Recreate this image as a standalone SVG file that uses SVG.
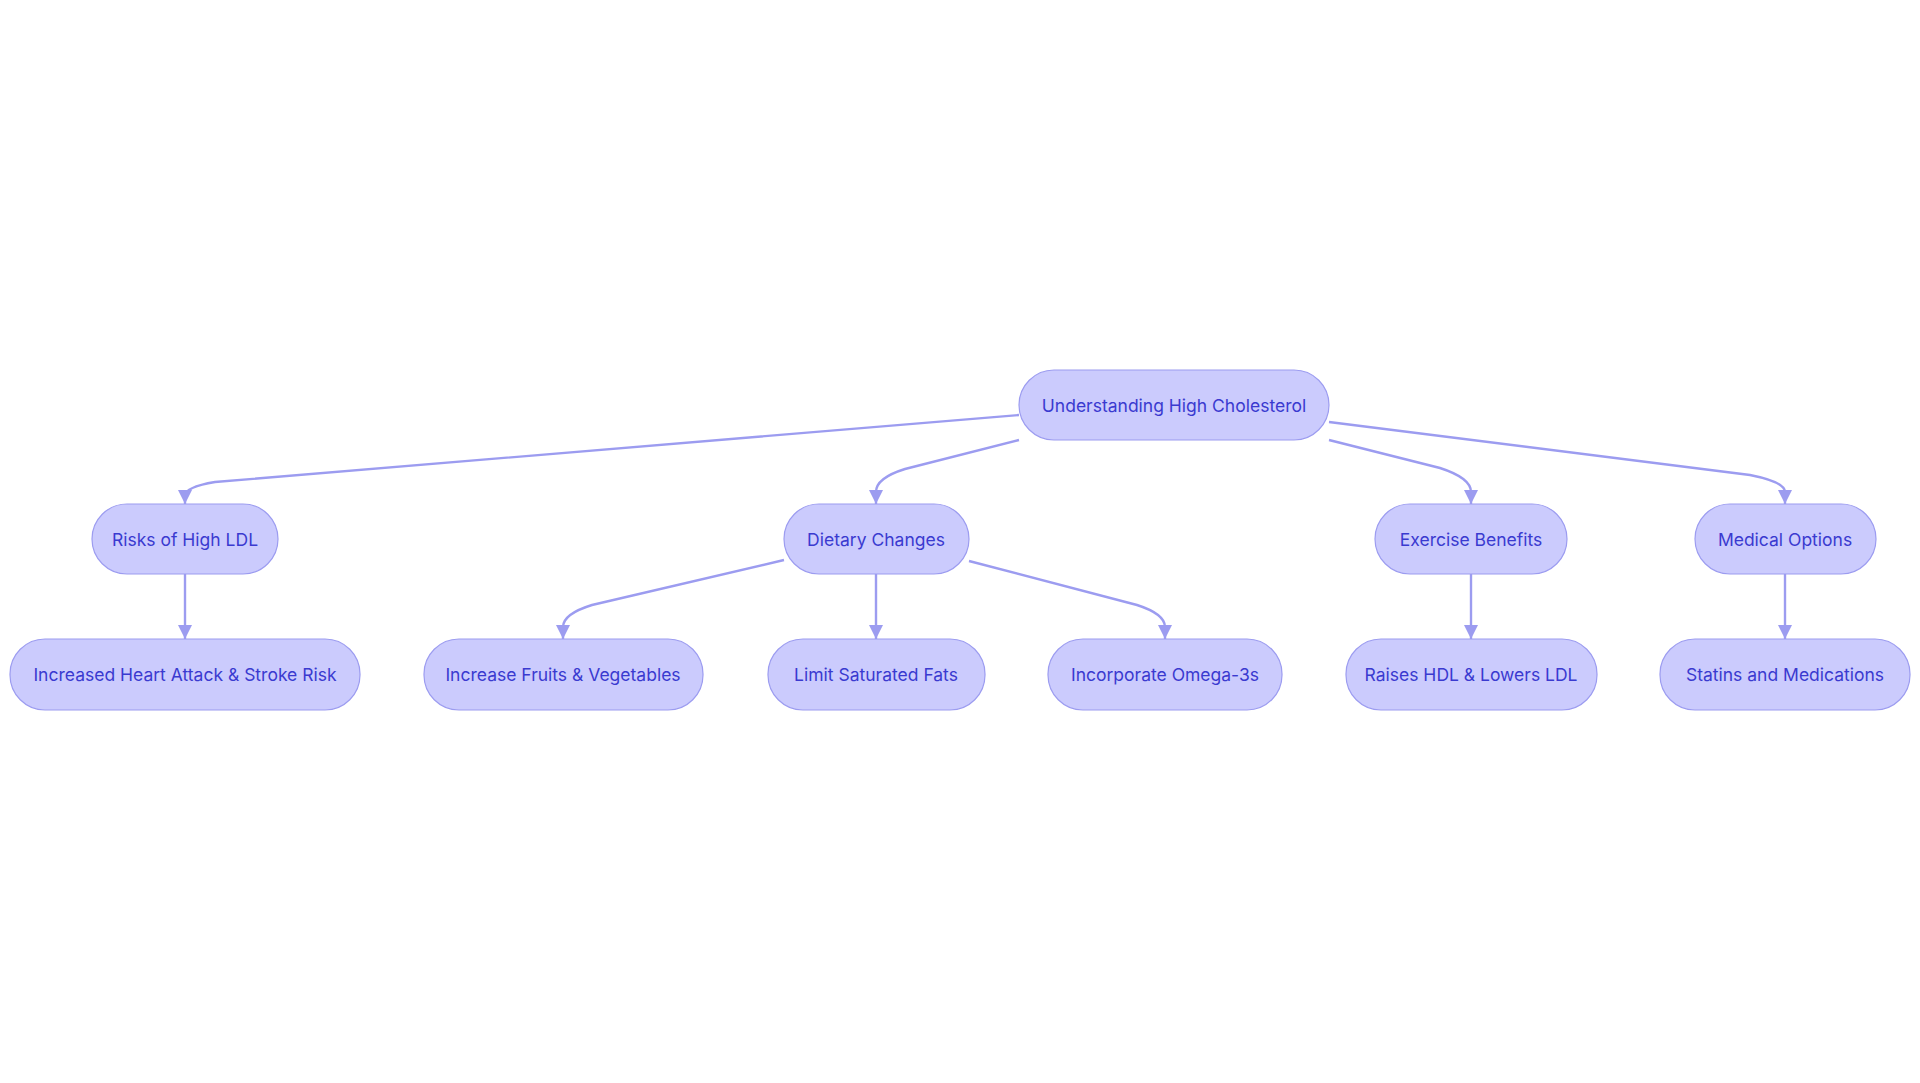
<svg xmlns="http://www.w3.org/2000/svg" width="1920" height="1083" viewBox="0 0 1920 1083">
<style>
.n rect{fill:#cbcbfd;stroke:#9c9cf0;stroke-width:1.2}
.n text{font-family:Inter,"Noto Sans",sans-serif;font-size:17.5px;fill:#3a3ad0;text-anchor:middle;dominant-baseline:central}
.e path{fill:none;stroke:#9c9cf0;stroke-width:2.4;marker-end:url(#a)}
</style>
<defs><marker id="a" viewBox="0 0 10 10" refX="10" refY="5" markerWidth="6" markerHeight="6" markerUnits="strokeWidth" orient="auto"><path d="M0,0L10,5L0,10z" fill="#9c9cf0"/></marker></defs>
<rect width="1920" height="1083" fill="#fff"/>
<g class="e">
<path d="M1019,415 L215,482 Q185,487 185,496 L185,504"/>
<path d="M1019,440 L905,469 Q876,478 876,492 L876,504"/>
<path d="M1329,440 L1440,468 Q1471,478 1471,492 L1471,504"/>
<path d="M1329,422 L1750,475 Q1785,482 1785,492 L1785,504"/>
<path d="M185,574 L185,639"/>
<path d="M784,560 L592,605 Q563,614 563,627 L563,639"/>
<path d="M876,574 L876,639"/>
<path d="M969,561 L1137,605 Q1165,614 1165,627 L1165,639"/>
<path d="M1471,574 L1471,639"/>
<path d="M1785,574 L1785,639"/>
</g>
<g id="root" class="n"><rect x="1019" y="370" width="310" height="70" rx="35"/><text x="1174" y="405">Understanding High Cholesterol</text></g>
<g id="risks" class="n"><rect x="92" y="504" width="186" height="70" rx="35"/><text x="185" y="539">Risks of High LDL</text></g>
<g id="diet" class="n"><rect x="784" y="504" width="185" height="70" rx="35"/><text x="876" y="539">Dietary Changes</text></g>
<g id="exercise" class="n"><rect x="1375" y="504" width="192" height="70" rx="35"/><text x="1471" y="539">Exercise Benefits</text></g>
<g id="medical" class="n"><rect x="1695" y="504" width="181" height="70" rx="35"/><text x="1785" y="539">Medical Options</text></g>
<g id="heart" class="n"><rect x="10" y="639" width="350" height="71" rx="35"/><text x="185" y="674.5">Increased Heart Attack &amp; Stroke Risk</text></g>
<g id="fruits" class="n"><rect x="424" y="639" width="279" height="71" rx="35"/><text x="563" y="674.5">Increase Fruits &amp; Vegetables</text></g>
<g id="fats" class="n"><rect x="768" y="639" width="217" height="71" rx="35"/><text x="876" y="674.5">Limit Saturated Fats</text></g>
<g id="omega" class="n"><rect x="1048" y="639" width="234" height="71" rx="35"/><text x="1165" y="674.5">Incorporate Omega-3s</text></g>
<g id="hdl" class="n"><rect x="1346" y="639" width="251" height="71" rx="35"/><text x="1471" y="674.5">Raises HDL &amp; Lowers LDL</text></g>
<g id="statins" class="n"><rect x="1660" y="639" width="250" height="71" rx="35"/><text x="1785" y="674.5">Statins and Medications</text></g>
</svg>
